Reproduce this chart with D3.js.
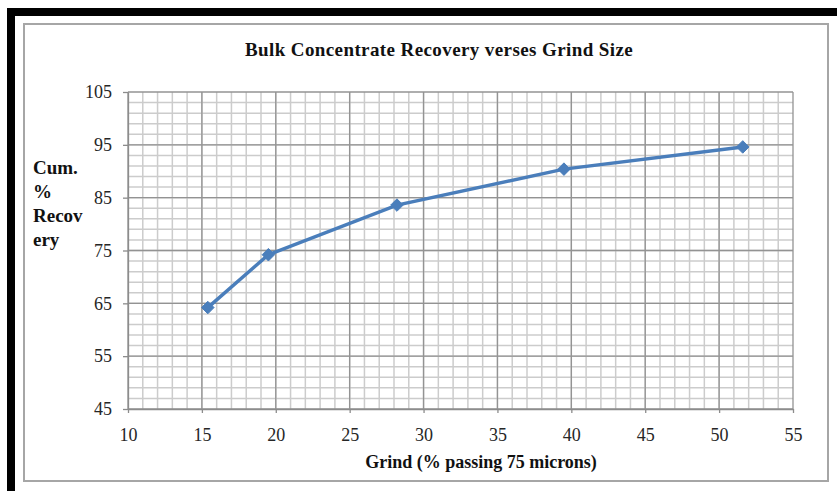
<!DOCTYPE html>
<html>
<head>
    <title>Bulk Concentrate Recovery</title>
    <script src="https://cdn.jsdelivr.net/npm/d3@7"></script>
    <style>
        body { margin: 0; background: #fff; }
    </style>
</head>
<body>
    <div id="chart"></div>
    <script>
        // data
        const grind = [15.4, 19.5, 28.2, 39.5, 51.6];
        const recovery = [64.2, 74.2, 83.6, 90.4, 94.6];
        const xTicks = [10, 15, 20, 25, 30, 35, 40, 45, 50, 55];
        const yTicks = [45, 55, 65, 75, 85, 95, 105];
        const yLabelLines = ["Cum.", "%", "Recov", "ery"];

        const W = 837, H = 491;
        const plot = { left: 128, right: 793, top: 92, bottom: 409 };
        const serif = "'Liberation Serif', 'Times New Roman', 'DejaVu Serif', serif";

        const svg = d3.select("#chart").append("svg")
            .attr("width", W).attr("height", H)
            .attr("font-family", serif);

        // black frame pieces
        svg.append("rect").attr("x", 7).attr("y", 8).attr("width", W - 7).attr("height", 8).attr("fill", "#000");
        svg.append("rect").attr("x", 7).attr("y", 8).attr("width", 8).attr("height", H - 8).attr("fill", "#000");

        // chart area border
        svg.append("rect")
            .attr("x", 24).attr("y", 24).attr("width", 804).attr("height", 457)
            .attr("fill", "#fff").attr("stroke", "#a6a6a6").attr("stroke-width", 2);

        const x = d3.scaleLinear().domain([10, 55]).range([plot.left, plot.right]);
        const y = d3.scaleLinear().domain([45, 105]).range([plot.bottom, plot.top]);

        // minor grid
        const g = svg.append("g");
        g.selectAll(".vminor").data(d3.range(11, 55)).join("line")
            .attr("x1", d => x(d)).attr("x2", d => x(d))
            .attr("y1", plot.top).attr("y2", plot.bottom)
            .attr("stroke", "#cccccc").attr("stroke-width", 1.5);
        g.selectAll(".hminor").data(d3.range(47, 105, 2)).join("line")
            .attr("x1", plot.left).attr("x2", plot.right)
            .attr("y1", d => y(d)).attr("y2", d => y(d))
            .attr("stroke", "#cccccc").attr("stroke-width", 1.5);

        // major grid
        g.selectAll(".vmajor").data(xTicks).join("line")
            .attr("x1", d => x(d)).attr("x2", d => x(d))
            .attr("y1", plot.top).attr("y2", plot.bottom)
            .attr("stroke", "#939393").attr("stroke-width", 1.3);
        g.selectAll(".hmajor").data(yTicks).join("line")
            .attr("x1", plot.left).attr("x2", plot.right)
            .attr("y1", d => y(d)).attr("y2", d => y(d))
            .attr("stroke", "#939393").attr("stroke-width", 1.3);

        // axes
        const xAxis = svg.append("g")
            .attr("transform", `translate(0,${plot.bottom})`)
            .call(d3.axisBottom(x).tickValues(xTicks).tickSize(4).tickPadding(15).tickSizeOuter(0));
        const yAxis = svg.append("g")
            .attr("transform", `translate(${plot.left},0)`)
            .call(d3.axisLeft(y).tickValues(yTicks).tickSize(5).tickPadding(11).tickSizeOuter(0));
        [xAxis, yAxis].forEach(a => {
            a.attr("font-family", serif).attr("font-size", 18);
            a.select(".domain").attr("stroke", "#8c8c8c").attr("stroke-width", 1.3);
            a.selectAll(".tick line").attr("stroke", "#8c8c8c").attr("stroke-width", 1.3);
            a.selectAll(".tick text").attr("fill", "#262626");
        });

        // series line
        const line = d3.line()
            .x((d, i) => x(grind[i]))
            .y(d => y(d));
        svg.append("path")
            .datum(recovery)
            .attr("fill", "none")
            .attr("stroke", "#4a7ebb")
            .attr("stroke-width", 3.5)
            .attr("d", line);

        // diamond markers
        svg.selectAll(".pt").data(recovery).join("path")
            .attr("transform", (d, i) => `translate(${x(grind[i])},${y(d)})`)
            .attr("d", d3.symbol().type(d3.symbolDiamond2).size(100))
            .attr("fill", "#4a7ebb")
            .attr("stroke", "#4a7ebb");

        // title
        svg.append("text")
            .attr("x", 439).attr("y", 56)
            .attr("text-anchor", "middle")
            .attr("font-size", 19).attr("font-weight", "bold")
            .attr("letter-spacing", 0.4)
            .attr("fill", "#111")
            .text("Bulk Concentrate Recovery verses Grind Size");

        // y axis title
        svg.append("g").selectAll("text").data(yLabelLines).join("text")
            .attr("x", 33)
            .attr("y", (d, i) => 174 + i * 24)
            .attr("font-size", 19).attr("font-weight", "bold")
            .attr("fill", "#111")
            .text(d => d);

        // x axis title
        svg.append("text")
            .attr("x", 481).attr("y", 468)
            .attr("text-anchor", "middle")
            .attr("font-size", 18).attr("font-weight", "bold")
            .attr("fill", "#111")
            .text("Grind (% passing 75 microns)");
    </script>
</body>
</html>
